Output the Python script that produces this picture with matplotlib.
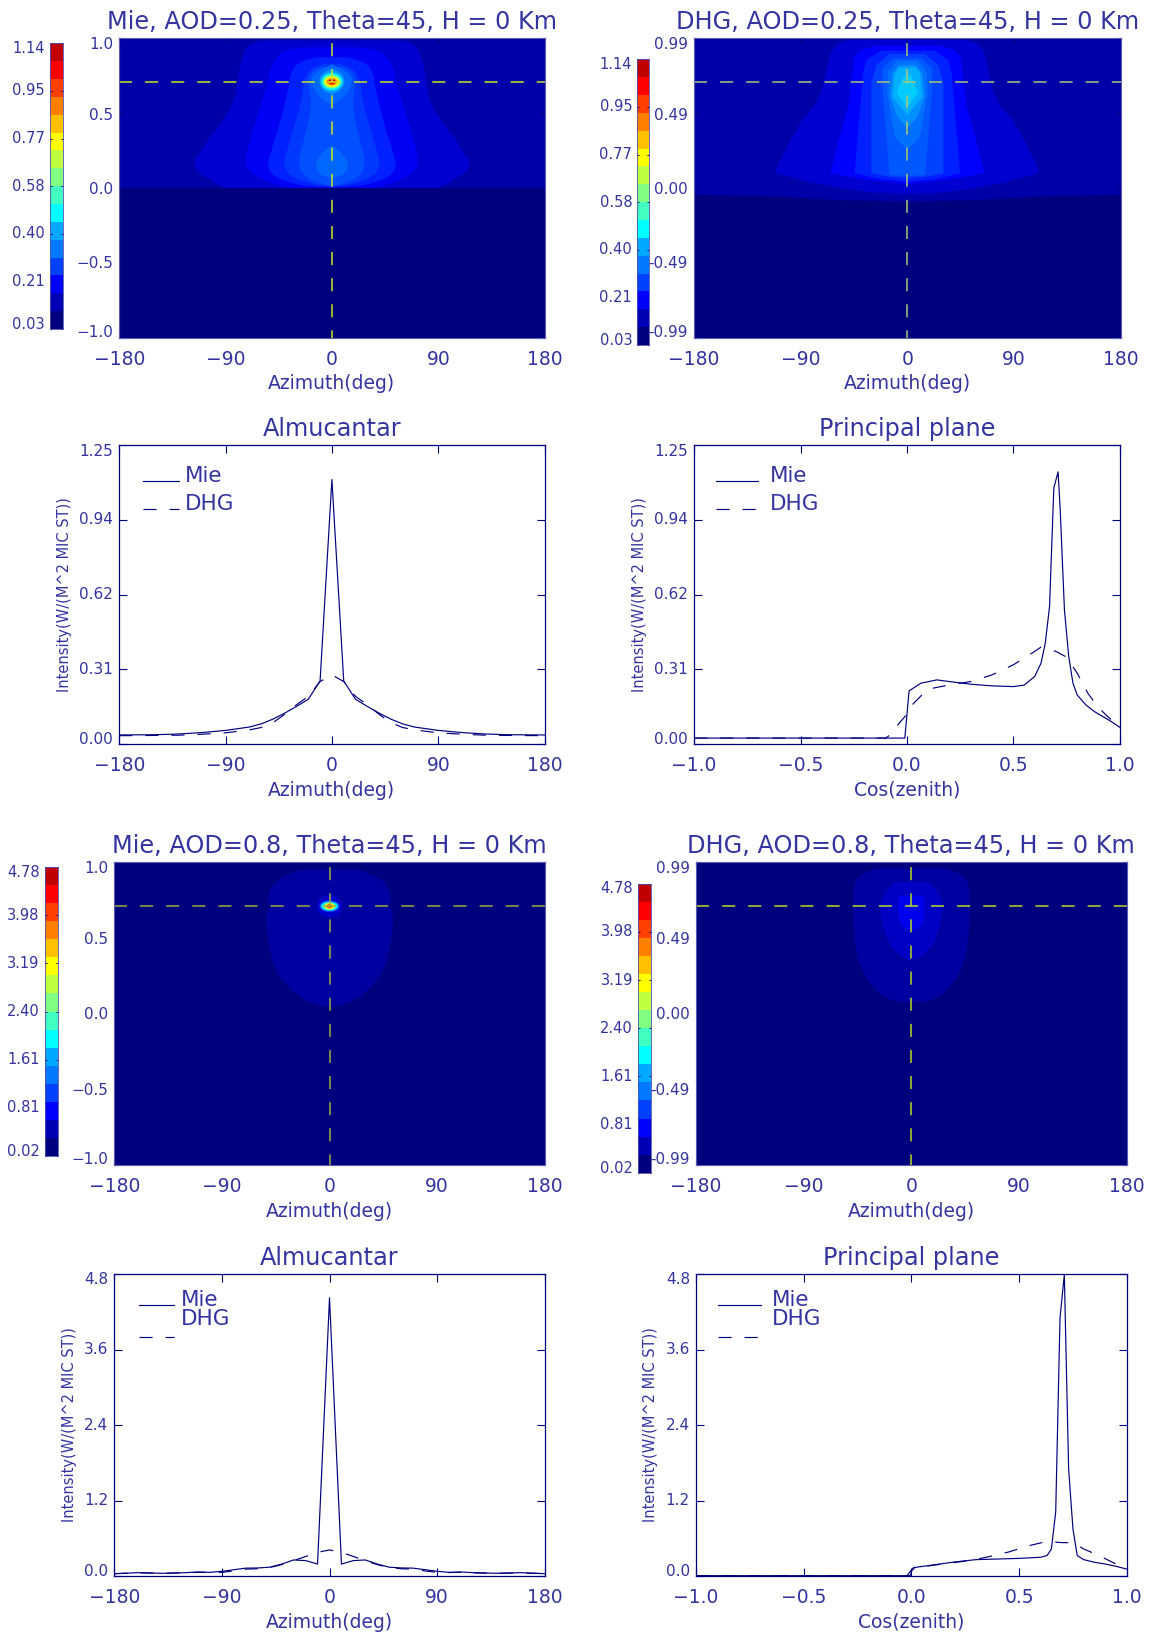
import matplotlib
matplotlib.use('Agg')
import matplotlib.pyplot as plt
from matplotlib.colors import ListedColormap
from matplotlib.patches import Ellipse
import numpy as np

W,H=1152,1635
NAVY='#00007f'
TXT='#3434a0'
plt.rcParams['lines.scale_dashes']=False
plt.rcParams['font.family']=['DejaVu Sans']

#colorbar bands, bottom to top
bar_cols=['#00007f','#0000b4','#0000ff','#0040ff','#0078ff','#00a8ff','#00ffff','#40ffc0',
          '#80ff80','#c0ff40','#ffff00','#ffc000','#ff8000','#ff4000','#ff0000','#c00000']
bar_labels_low=['0.03','0.21','0.40','0.58','0.77','0.95','1.14']
bar_labels_high=['0.02','0.81','1.61','2.40','3.19','3.98','4.78']

#####heat map contours (half width in azimuth vs cos zenith)#################################
m1_bg_mu=[1,0]
m1_bg_az=[180,180]
m1_c1_mu=[.985,.965,.90,.766,.588,.454,.321,.232,.165,.098,.009,0]
m1_c1_az=[56,69,75,79,82,92,105,112,118,112,94,90]
m1_c2_mu=[.94,.929,.90,.833,.655,.432,.232,.143,.076,.02,.004,0]
m1_c2_az=[17,35,44,51,56,65,72.5,73,65,47,37,30]
m1_c3_mu=[.873,.833,.766,.655,.432,.232,.143,.076,.031,.009,.005]
m1_c3_az=[14,30,35,37,44,52,55,49,34,20,0]
m1_c4_mu=[.829,.80,.766,.70,.543,.432,.276,.165,.098,.042,.016]
m1_c4_az=[7,17,21,24,27,31,37,41,38,25,8.5]
m1_c5_mu=[.811,.766,.70,.566,.365,.232,.143,.076,.031,.013]
m1_c5_az=[8.5,19,20,17,22,27,28,23,11,1.4]
m1_blob_mu=[.287,.243,.187,.143,.087,.065]
m1_blob_az=[0,7,12.7,14,10,0]
m1_halo_mu=[.826,.788,.744,.70,.61,.555]
m1_halo_az=[0,10,17,17,11.3,0]
m1_halo2_mu=[.80,.766,.71,.655,.621]
m1_halo2_az=[0,8.5,11.3,8,0]
m1_bands=[(m1_bg_mu,m1_bg_az,'#0000a8'),(m1_c1_mu,m1_c1_az,'#0000d0'),(m1_c2_mu,m1_c2_az,'#0000f4'),
          (m1_c3_mu,m1_c3_az,'#0020ff'),(m1_c4_mu,m1_c4_az,'#0038ff'),(m1_c5_mu,m1_c5_az,'#0050ff'),
          (m1_blob_mu,m1_blob_az,'#0068ff'),(m1_halo_mu,m1_halo_az,'#0068ff'),(m1_halo2_mu,m1_halo2_az,'#0090ff')]
m1_peak_w=[10.4,8.7,7.6,6.2,4.5,3.1,1.4]
m1_peak_h=[.067,.056,.045,.036,.025,.016,.005]
m1_peak_c=['#00a8ff','#00ffff','#80ff80','#ffff00','#ff8000','#ff0000','#c00000']

m2_bg_mu=[1,-.045,-.058,-.08,-.09]
m2_bg_az=[180,180,108,60,0]
m2_c1_mu=[.989,.967,.90,.766,.655,.543,.454,.298,.143,.098,.042,-.002,-.031,-.04]
m2_c1_az=[48,59,65,69,72,79,89,100,110,111,84,56,28,0]
m2_c2_mu=[.949,.922,.877,.543,.321,.098,.058,.027]
m2_c2_az=[27,39,45,50,58,65,37,0]
m2_c3_mu=[.918,.855,.766,.098,.058,.042]
m2_c3_az=[22.5,34.6,37.4,44.5,22.5,0]
m2_c4_mu=[.895,.822,.70,.098,.076,.065]
m2_c4_az=[15,26,30.4,30.4,15,0]
m2_c5_mu=[.866,.80,.655,.087,.08]
m2_c5_az=[12,21,21,15,0]
m2_c6_mu=[.851,.777,.633,.343,.254]
m2_c6_az=[8.4,16.3,16.9,10.7,0]
m2_c7_mu=[.822,.766,.61,.477,.399]
m2_c7_az=[7,12.7,14.6,8.4,0]
m2_c8_mu=[.806,.766,.61,.488]
m2_c8_az=[7,10.7,12.7,0]
m2_c9_mu=[.755,.71,.633,.543]
m2_c9_az=[2.3,5.6,9,0]
m2_bands=[(m2_bg_mu,m2_bg_az,'#0000a8'),(m2_c1_mu,m2_c1_az,'#0000d0'),(m2_c2_mu,m2_c2_az,'#0000ff'),
          (m2_c3_mu,m2_c3_az,'#0020ff'),(m2_c4_mu,m2_c4_az,'#0040ff'),(m2_c5_mu,m2_c5_az,'#0058ff'),
          (m2_c6_mu,m2_c6_az,'#0070ff'),(m2_c7_mu,m2_c7_az,'#0090ff'),(m2_c8_mu,m2_c8_az,'#00b0ff'),
          (m2_c9_mu,m2_c9_az,'#00ccff')]

m3_c1_mu=[.954,.883,.773,.718,.707,.674,.553,.289,.134,.064,.042]
m3_c1_az=[24,46,52,50,49,53,53,47,30,15,0]
m3_bands=[(m3_c1_mu,m3_c1_az,'#0000a0')]
m3_peak_w=[10.5,8.5,7.5,6.5,5,4,2.7,1.8]
m3_peak_h=[.075,.038,.032,.028,.024,.02,.015,.011]
m3_peak_c=['#0000c8','#0040ff','#00a8ff','#00ffff','#80ff80','#ffff00','#ff8000','#ff4000']

m4_c1_mu=[.96,.916,.839,.553,.31,.134,.079,.075]
m4_c1_az=[29,44,48.7,48.7,44,29,13.5,0]
m4_c2_mu=[.872,.773,.641,.465,.366,.355]
m4_c2_az=[13.5,25.7,26,19.6,7.4,0]
m4_c3_mu=[.78,.641,.575,.542]
m4_c3_az=[10.4,11.3,7.4,0]
m4_bands=[(m4_c1_mu,m4_c1_az,'#0000a0'),(m4_c2_mu,m4_c2_az,'#0000c4'),(m4_c3_mu,m4_c3_az,'#0000ee')]

#####line plots###############################################################################
alm_az=[0,10,20,30,40,50,60,70,90,110,130,150,180]
alm1_mie=[1.106,.265,.188,.158,.13,.105,.085,.072,.058,.049,.043,.04,.039]
alm1_dhg=[.29,.262,.20,.165,.125,.09,.07,.06,.048,.042,.038,.037,.036]

pp1_mie_x=[-1,-.01,.01,.065,.14,.2,.3,.4,.5,.55,.6,.63,.65,.67,.69,.71,.72,.74,.76,.78,.8,.84,.88,.92,.96,1]
pp1_mie_y=[.026,.026,.223,.255,.269,.262,.251,.244,.241,.247,.283,.339,.423,.576,1.07,1.138,.98,.56,.367,.255,.206,.165,.137,.116,.095,.071]
pp1_dhg_x=[-1,-.1,-.08,-.04,0,.03,.07,.12,.2,.3,.4,.5,.6,.63,.7,.75,.8,.85,.9,.95,1]
pp1_dhg_y=[.026,.026,.039,.084,.126,.17,.206,.234,.248,.262,.29,.332,.388,.406,.388,.364,.297,.213,.153,.11,.074]

alm2_az=[0,10,20,30,40,50,60,70,80,90,100,110,120,140,160,180]
alm2_mie=[4.42,.19,.245,.255,.19,.14,.128,.125,.1,.075,.058,.064,.053,.043,.053,.037]
alm2_dhg=[.415,.375,.31,.245,.18,.135,.115,.11,.08,.058,.055,.058,.05,.043,.05,.037]

pp2_mie_x=[-1,-.005,.005,.01,.1,.2,.3,.4,.5,.6,.63,.65,.67,.69,.71,.73,.75,.77,.8,.85,.9,.95,1]
pp2_mie_y=[.005,.005,.11,.133,.175,.223,.26,.27,.28,.298,.325,.43,1.016,4.1,4.79,1.7,.75,.325,.26,.218,.19,.154,.11]
pp2_dhg_x=[-1,-.02,0,.03,.1,.27,.35,.45,.55,.63,.7,.75,.8,.87,.95,1]
pp2_dhg_y=[.005,.005,.096,.138,.17,.245,.3,.38,.485,.55,.53,.53,.43,.325,.19,.11]

az_labels=['\u2212180','\u221290','0','90','180']
az_ticks=[-180,-90,0,90,180]
mu_labels=['\u22121.0','\u22120.5','0.0','0.5','1.0']
mu_ticks=[-1,-.5,0,.5,1]
hgy_labels=['-0.99','-0.49','0.00','0.49','0.99']
y1_ticks=[0,.3125,.625,.9375,1.25]
y1_labels=['0.00','0.31','0.62','0.94','1.25']
y2_ticks=[0,1.2,2.4,3.6,4.8]
y2_labels=['0.0','1.2','2.4','3.6','4.8']

fig=plt.figure(figsize=(W/100,H/100),dpi=100,facecolor='white')

def box(x0,x1,y0,y1):
    return fig.add_axes([x0/W,1-y1/H,(x1-x0)/W,(y1-y0)/H])

def pt(p):
    return p*0.72

def chaikin(x,y,n=3):
    #rounds the corners of a contour outline, end points stay
    x=np.array(x,float)
    y=np.array(y,float)
    for i in range(n):
        nx=[x[0]]
        ny=[y[0]]
        for k in range(len(x)-1):
            nx+=[.75*x[k]+.25*x[k+1],.25*x[k]+.75*x[k+1]]
            ny+=[.75*y[k]+.25*y[k+1],.25*y[k]+.75*y[k+1]]
        nx.append(x[-1])
        ny.append(y[-1])
        x=np.array(nx)
        y=np.array(ny)
    return x,y

def xaxis_text(ax,ticks,labels,xlabel,title):
    for t,s in zip(ticks,labels):
        ax.annotate(s,xy=(t,0),xycoords=('data','axes fraction'),xytext=(0,-pt(21.4)),
                    textcoords='offset points',ha='center',va='center',fontsize=13.5,color=TXT,annotation_clip=False)
    ax.annotate(xlabel,xy=(.5,0),xycoords='axes fraction',xytext=(0,-pt(46)),textcoords='offset points',
                ha='center',va='center',fontsize=13.5,color=TXT)
    ax.annotate(title,xy=(.5,1),xycoords='axes fraction',xytext=(0,pt(16)),textcoords='offset points',
                ha='center',va='center',fontsize=17.3,color=TXT)

def yaxis_text(ax,ticks,labels,shift):
    for t,s,d in zip(ticks,labels,shift):
        ax.annotate(s,xy=(0,t),xycoords=('axes fraction','data'),xytext=(-pt(6),-pt(d)),
                    textcoords='offset points',ha='right',va='center',fontsize=11,color=TXT,annotation_clip=False)

def ticks_in(ax,xticks,yticks,length):
    ax.set_xticks(xticks)
    ax.set_yticks(yticks)
    ax.tick_params(direction='in',top=True,right=True,length=pt(length),width=.8,color=NAVY,
                   labelbottom=False,labelleft=False)

def colorbar(x0,x1,y0,y1,labels,vmin,vmax):
    ax=box(x0,x1,y0,y1)
    edges=np.linspace(vmin,vmax,17)
    cm=ListedColormap(bar_cols)
    ax.pcolormesh([0,1],edges,np.arange(16).reshape(16,1),cmap=cm,vmin=-.5,vmax=15.5)
    vals=np.linspace(vmin,vmax,7)
    ax.set_xticks([])
    ax.set_yticks(vals)
    ax.tick_params(direction='in',right=True,length=pt(2.5),width=.7,color=NAVY,labelleft=False)
    for s in ax.spines.values():
        s.set_color('#5050b0')
        s.set_linewidth(.6)
    shift=[-4.5,0,0,0,0,0,5]
    for v,s,d in zip(vals,labels,shift):
        ax.annotate(s,xy=(0,v),xycoords=('axes fraction','data'),xytext=(-pt(5),-pt(d)),
                    textcoords='offset points',ha='right',va='center',fontsize=10.5,color=TXT,annotation_clip=False)

def heat(x0,x1,y0,y1,bands,peak,cross,ylabels,title,smooth):
    ax=box(x0,x1,y0,y1)
    ax.set_xlim(-180,180)
    ax.set_ylim(-1,1)
    ax.set_facecolor(NAVY)
    for mu,az,col in bands:
        if smooth and len(mu)>2:
            az,mu=chaikin(az,mu)
        mu=np.array(mu)
        az=np.array(az)
        ax.fill(np.concatenate([az,-az[::-1]]),np.concatenate([mu,mu[::-1]]),color=col,lw=0)
    if peak is not None:
        for w,h,c in zip(*peak):
            ax.add_patch(Ellipse((0,.71),2*w,2*h,color=c,lw=0))
    #dashes start at the left edge, and a bit under the top edge
    ax.axhline(.71,color=cross,lw=1.1,ls=(0,(9.4,9.4)))
    ax.plot([0,0],[1,-1],color=cross,lw=1.1,ls=(15.1,(9.4,9.4)))
    ticks_in(ax,az_ticks,mu_ticks,5)
    for s in ax.spines.values():
        s.set_color('#5c5cb4')
        s.set_linewidth(.8)
    xaxis_text(ax,az_ticks,az_labels,'Azimuth(deg)',title)
    yaxis_text(ax,mu_ticks,ylabels,[-5,1,1,2,6])
    return ax

def lines(x0,x1,y0,y1,xd,yd,xlim,yticks,ylabels,xticks,xlabels,xlabel,title,ylab_x,leg):
    ax=box(x0,x1,y0,y1)
    ax.set_xlim(xlim)
    ax.set_ylim(yticks[0],yticks[-1])
    ax.plot(xd[0],yd[0],color=NAVY,lw=.85)
    ax.plot(xd[1],yd[1],color=NAVY,lw=.85,ls=(0,(9.4,9.4)))
    ticks_in(ax,xticks,yticks,8)
    for s in ax.spines.values():
        s.set_color(NAVY)
        s.set_linewidth(.9)
    xaxis_text(ax,xticks,xlabels,xlabel,title)
    yaxis_text(ax,yticks,ylabels,[-5,0,0,0,6])
    fig.text((ylab_x+1.5)/W,1-(y0+y1)/2/H,'Intensity(W/(M^2 MIC ST))',rotation=90,ha='center',va='center',fontsize=10.5,color=TXT)
    #legend is drawn by hand, the spacing differs between rows of panels
    lx0,lx1,tx,ys,yt1,yt2,yd2=leg
    fig.add_artist(plt.Line2D([lx0/W,lx1/W],[1-ys/H,1-ys/H],color=NAVY,lw=.85))
    fig.add_artist(plt.Line2D([lx0/W,lx1/W],[1-yd2/H,1-yd2/H],color=NAVY,lw=.85,ls=(0,(9.4,9.4))))
    fig.text(tx/W,1-(yt1+2)/H,'Mie',ha='left',va='center',fontsize=15.5,color=TXT)
    fig.text(tx/W,1-(yt2+2)/H,'DHG',ha='left',va='center',fontsize=15.5,color=TXT)
    return ax

def sym(az,val):
    az=np.array(az)
    val=np.array(val)
    return np.concatenate([-az[::-1],az[1:]]),np.concatenate([val[::-1],val[1:]])

#####first pair of rows, AOD=0.25#############################################################
colorbar(49.9,62.7,43.3,329,bar_labels_low,0.03,1.14)
heat(119.2,544.6,38.3,337.7,m1_bands,(m1_peak_w,m1_peak_h,m1_peak_c),'#c8e61e',mu_labels,
     'Mie, AOD=0.25, Theta=45, H = 0 Km',True)
colorbar(637.2,649.3,59.3,345,bar_labels_low,0.03,1.14)
heat(694.1,1120.6,38.3,337.7,m2_bands,None,'#a8c878',hgy_labels,
     'DHG, AOD=0.25, Theta=45, H = 0 Km',False)

x1,y1=sym(alm_az,alm1_mie)
x2,y2=sym(alm_az,alm1_dhg)
lines(119.2,544.6,445,744.3,(x1,x2),(y1,y2),(-180,180),y1_ticks,y1_labels,az_ticks,az_labels,
      'Azimuth(deg)','Almucantar',63,(143,178.6,185.2,481,474,502.3,509.3))
lines(694.1,1119.8,445,744.3,(pp1_mie_x,pp1_dhg_x),(pp1_mie_y,pp1_dhg_y),(-1,1),y1_ticks,y1_labels,mu_ticks,mu_labels,
      'Cos(zenith)','Principal plane',638.3,(716.4,758.2,769.6,481,474,502.3,509.3))

#####second pair of rows, AOD=0.8#############################################################
colorbar(44.7,57.6,867.3,1155.7,bar_labels_high,0.02,4.78)
heat(114.4,544.6,862.3,1165,m3_bands,(m3_peak_w,m3_peak_h,m3_peak_c),'#a0aa3c',mu_labels,
     'Mie, AOD=0.8, Theta=45, H = 0 Km',True)
colorbar(638,650.8,883.7,1172.7,bar_labels_high,0.02,4.78)
heat(695.9,1126.8,862.3,1165,m4_bands,None,'#b8d820',hgy_labels,
     'DHG, AOD=0.8, Theta=45, H = 0 Km',True)

x1,y1=sym(alm2_az,alm2_mie)
x2,y2=sym(alm2_az,alm2_dhg)
lines(114.4,544.6,1274,1576,(x1,x2),(y1,y2),(-180,180),y2_ticks,y2_labels,az_ticks,az_labels,
      'Azimuth(deg)','Almucantar',67.8,(138.6,174.2,180.8,1305.3,1297.7,1316.7,1336.7))
lines(695.9,1126.8,1274,1576,(pp2_mie_x,pp2_dhg_x),(pp2_mie_y,pp2_dhg_y),(-1,1),y2_ticks,y2_labels,mu_ticks,mu_labels,
      'Cos(zenith)','Principal plane',649.3,(718.3,760.5,772.2,1305.3,1297.7,1316.7,1336.7))

fig.savefig('out.png',dpi=100)
